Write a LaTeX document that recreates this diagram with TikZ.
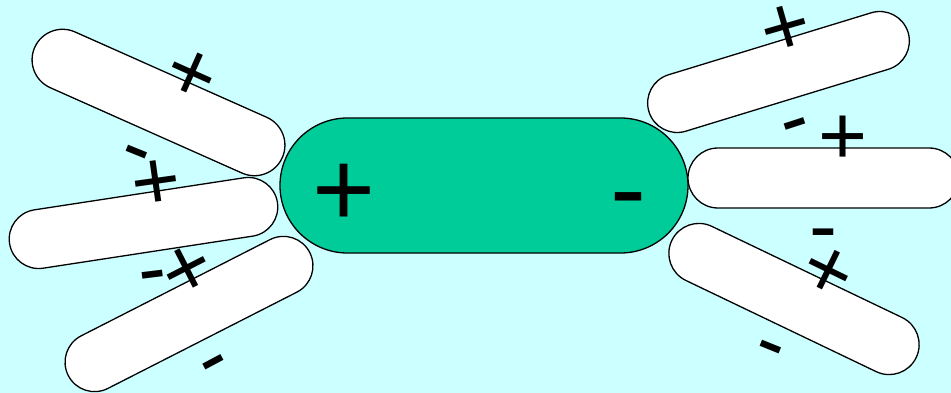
\documentclass[tikz,border=0pt]{standalone}
\usepackage{fontspec}
\setmainfont{Liberation Sans}
\usetikzlibrary{shapes.misc}
\definecolor{bgcyan}{HTML}{CCFFFF}
\definecolor{cellgreen}{HTML}{00CC99}
\newcommand\pchg{\smash{\raisebox{-0.353em}{+}}}
\newcommand\mchg{\smash{\raisebox{-0.259em}{-}}}
\begin{document}
\begin{tikzpicture}[x=1pt,y=-1pt,
  cell/.style={rounded rectangle, draw=black, line width=1.3pt, fill=white,
    inner sep=0pt, minimum height=60pt, minimum width=271pt},
  bigsign/.style={inner sep=0pt, font=\fontsize{108}{108}\selectfont},
  smallsign/.style={inner sep=0pt, font=\fontsize{84}{84}\selectfont}]
\useasboundingbox (0,0) rectangle (951,393);
\clip (0,0) rectangle (951,393);
\fill[bgcyan] (0,0) rectangle (951,393);
% central cell
\node[cell, fill=cellgreen, minimum width=408pt, minimum height=135pt] (center) at (484,185.5) {};
% left cells
\node[cell, minimum height=61pt, rotate=-24] (lt) at (158.5,102.5) {};
\node[cell, minimum height=59pt, rotate=8.7] (lm) at (143.5,223) {};
\node[cell, minimum height=59pt, rotate=27] (lb) at (189,314) {};
% right cells
\node[cell, minimum height=59pt, rotate=17] (rt) at (778.5,72) {};
\node[cell, minimum height=60pt] (rm) at (823.5,178) {};
\node[cell, minimum height=60pt, rotate=-25.6] (rb) at (794,299) {};
% charges on the central cell
\node[bigsign] (cp) at (344.5,188) {\pchg};
\node[bigsign] (cm) at (628,198) {\mchg};
% charges on the left cells
\node[smallsign, rotate=-24] (s1) at (192.7,71) {\pchg};
\node[smallsign, rotate=-22] (s2) at (136.7,152.3) {\mchg};
\node[smallsign, rotate=8] (s3) at (155.7,179.3) {\pchg};
\node[smallsign, rotate=7] (s4) at (152.3,275.7) {\mchg};
\node[smallsign, rotate=27] (s5) at (186,267.3) {\pchg};
\node[smallsign, rotate=28] (s6) at (213.7,362.7) {\mchg};
% charges on the right cells
\node[smallsign, rotate=16] (s7) at (785,25.7) {\pchg};
\node[smallsign, rotate=18] (s8) at (795,124) {\mchg};
\node[smallsign] (s9) at (842.7,135.3) {\pchg};
\node[smallsign] (s10) at (823.7,232.3) {\mchg};
\node[smallsign, rotate=-26] (s11) at (829.3,268.7) {\pchg};
\node[smallsign, rotate=-22] (s12) at (770.3,347.3) {\mchg};
\end{tikzpicture}
\end{document}
